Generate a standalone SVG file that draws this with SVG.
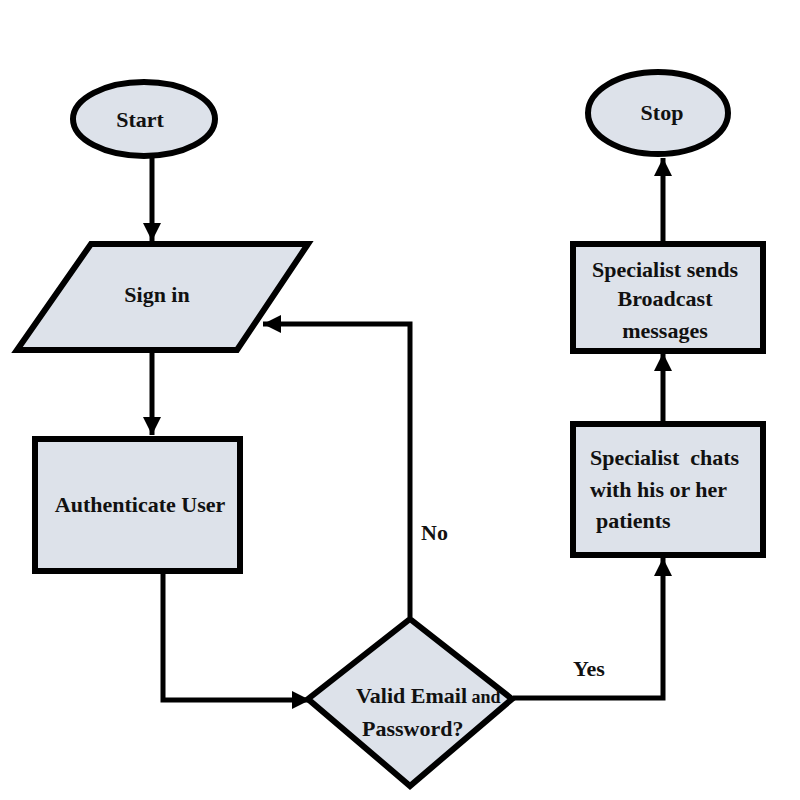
<svg xmlns="http://www.w3.org/2000/svg" width="800" height="800" viewBox="0 0 800 800">
<style>
.shape{fill:#dde2ea;stroke:#000;stroke-width:6}
.t{font-family:"Liberation Serif","Times New Roman",serif;font-weight:bold;font-size:22px;fill:#111}
.c{fill:none;stroke:#000;stroke-width:5}
</style>
<defs>
<marker id="arr" viewBox="0 0 10 10" refX="10" refY="5" markerWidth="18" markerHeight="18" markerUnits="userSpaceOnUse" orient="auto">
<path d="M0,0 L10,5 L0,10 z" fill="#000"/>
</marker>
</defs>
<rect width="800" height="800" fill="#fff"/>
<g id="connectors">
<line class="c" x1="152" y1="158" x2="152" y2="241" marker-end="url(#arr)"/>
<line class="c" x1="152" y1="350" x2="152" y2="435" marker-end="url(#arr)"/>
<polyline class="c" points="163,573 163,700 310,700" marker-end="url(#arr)"/>
<polyline class="c" points="410,617 410,324 263,324" marker-end="url(#arr)"/>
<polyline class="c" points="513,698 663,698 663,558" marker-end="url(#arr)"/>
<line class="c" x1="663" y1="421" x2="663" y2="353" marker-end="url(#arr)"/>
<line class="c" x1="663" y1="241" x2="663" y2="158" marker-end="url(#arr)"/>
</g>
<g id="start">
<ellipse class="shape" cx="144" cy="119" rx="71" ry="37"/>
<text class="t" x="140" y="127" text-anchor="middle">Start</text>
</g>
<g id="signin">
<polygon class="shape" points="91,244 308,244 237,350 17,350"/>
<text class="t" x="157" y="302" text-anchor="middle">Sign in</text>
</g>
<g id="auth">
<rect class="shape" x="35" y="439" width="205" height="132"/>
<text class="t" x="140" y="512" text-anchor="middle">Authenticate User</text>
</g>
<g id="decision">
<polygon class="shape" points="410,619 512,699 410,786 308,699"/>
<text class="t" x="356" y="703">Valid Email<tspan font-size="18"> and</tspan></text>
<text class="t" x="362" y="736">Password?</text>
</g>
<g id="chats">
<rect class="shape" x="573" y="424" width="190" height="131"/>
<text class="t" x="590" y="465">Specialist&#160; chats</text>
<text class="t" x="590" y="497">with his or her</text>
<text class="t" x="596" y="528">patients</text>
</g>
<g id="broadcast">
<rect class="shape" x="573" y="244" width="190" height="107"/>
<text class="t" x="665" y="277" text-anchor="middle">Specialist sends</text>
<text class="t" x="665" y="306" text-anchor="middle">Broadcast</text>
<text class="t" x="665" y="338" text-anchor="middle">messages</text>
</g>
<g id="stop">
<ellipse class="shape" cx="658" cy="113" rx="70" ry="41"/>
<text class="t" x="662" y="120" text-anchor="middle">Stop</text>
</g>
<g id="labels">
<text class="t" x="421" y="540">No</text>
<text class="t" x="573" y="676">Yes</text>
</g>
</svg>
